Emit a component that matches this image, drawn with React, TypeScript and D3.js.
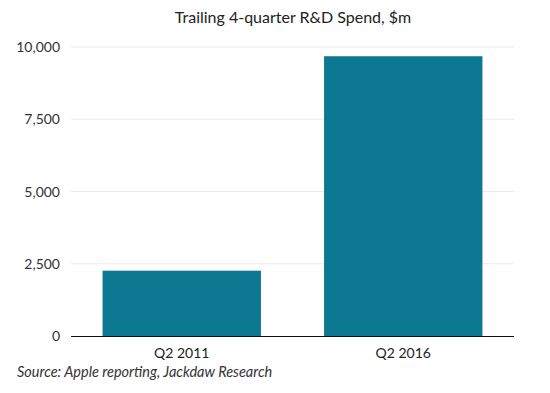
import React, { useEffect, useRef } from "react";
import * as d3 from "d3";

const categories = ["Q2 2011", "Q2 2016"];
const values = [2260, 9680];
const yTicks = [0, 2500, 5000, 7500, 10000];

const App = () => {
  const svgRef = useRef<SVGSVGElement>(null);
  const width = 550;
  const height = 393;
  const margin = { top: 47, right: 36, bottom: 57, left: 71 };

  useEffect(() => {
    const svg = d3.select(svgRef.current);
    svg.selectAll("*").remove();
    const font = "Lato, 'Noto Sans', sans-serif";

    const x = d3
      .scaleBand()
      .domain(categories)
      .range([margin.left, width - margin.right])
      .paddingInner(0.285)
      .paddingOuter(0.1425);

    const y = d3
      .scaleLinear()
      .domain([0, 10000])
      .range([height - margin.bottom, margin.top]);

    // title
    svg.append("text")
      .attr("x", 293)
      .attr("y", 23)
      .attr("text-anchor", "middle")
      .style("font-family", font)
      .style("font-size", "16px")
      .attr("fill", "#222")
      .text("Trailing 4-quarter R&D Spend, $m");

    // gridlines
    svg.append("g")
      .selectAll("line")
      .data(yTicks.filter((d) => d > 0))
      .enter()
      .append("line")
      .attr("x1", margin.left)
      .attr("x2", width - margin.right)
      .attr("y1", (d) => y(d))
      .attr("y2", (d) => y(d))
      .attr("stroke", "#ebebeb")
      .attr("stroke-width", 1);

    // y labels
    svg.append("g")
      .selectAll("text")
      .data(yTicks)
      .enter()
      .append("text")
      .attr("x", 60)
      .attr("y", (d) => y(d) + 5)
      .attr("text-anchor", "end")
      .style("font-family", font)
      .style("font-size", "14px")
      .attr("fill", "#333")
      .text((d) => d3.format(",")(d));

    // bars
    svg.append("g")
      .selectAll("rect")
      .data(values)
      .enter()
      .append("rect")
      .attr("x", (d, i) => x(categories[i]))
      .attr("y", (d) => y(d))
      .attr("width", x.bandwidth())
      .attr("height", (d) => y(0) - y(d))
      .attr("fill", "#0c7891");

    // x axis line
    svg.append("line")
      .attr("x1", margin.left)
      .attr("x2", width - margin.right)
      .attr("y1", y(0) + 0.5)
      .attr("y2", y(0) + 0.5)
      .attr("stroke", "#111")
      .attr("stroke-width", 1);

    // x labels
    svg.append("g")
      .selectAll("text")
      .data(categories)
      .enter()
      .append("text")
      .attr("x", (d) => x(d) + x.bandwidth() / 2)
      .attr("y", y(0) + 22)
      .attr("text-anchor", "middle")
      .style("font-family", font)
      .style("font-size", "14px")
      .attr("fill", "#222")
      .text((d) => d);

    // source
    svg.append("text")
      .attr("x", 17)
      .attr("y", 377)
      .style("font-family", font)
      .style("font-size", "14.5px")
      .style("font-style", "italic")
      .attr("fill", "#333")
      .text("Source: Apple reporting, Jackdaw Research");
  }, []);

  return (
    <svg
      ref={svgRef}
      width={width}
      height={height}
      style={{ position: "absolute", left: 0, top: 0, background: "#fff" }}
    ></svg>
  );
};

export default App;
